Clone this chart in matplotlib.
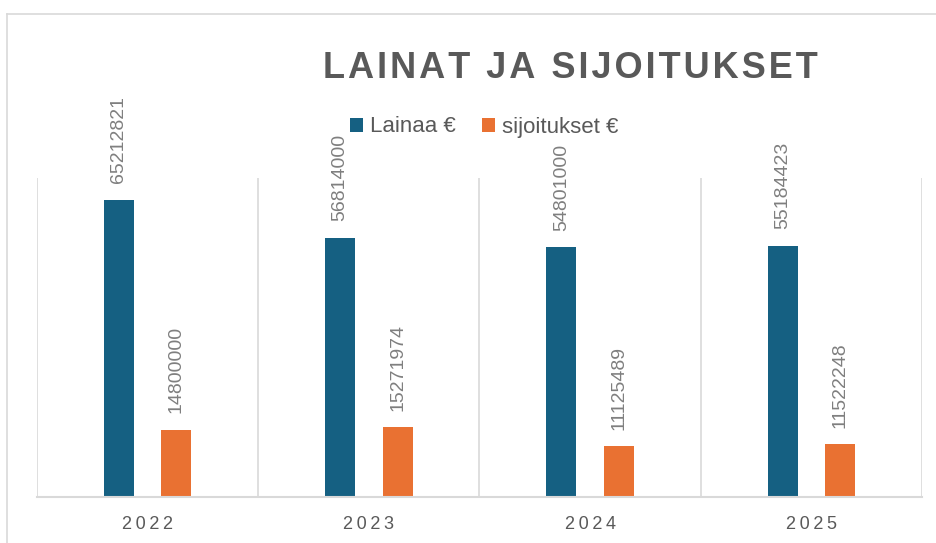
import numpy as np
import matplotlib
matplotlib.use("Agg")
import matplotlib.pyplot as plt
from matplotlib.lines import Line2D

plt.rcParams['font.family'] = ['Liberation Sans', 'DejaVu Sans']

vuodet = ["2022", "2023", "2024", "2025"]
lainaa = [65212821, 56814000, 54801000, 55184423]
sijoitukset = [14800000, 15271974, 11125489, 11522248]

sininen = "#156082"
oranssi = "#E97132"
harmaa = "#595959"
viiva = "#d9d9d9"


def harvenna(teksti, vali="\u200a"):
    # kirjainväli: ohut välilyönti merkkien väliin
    return vali.join(teksti)


fig = plt.figure(figsize=(9.37, 5.43), dpi=100)
# reunaviivat kuvan ylä- ja vasemmassa reunassa
fig.add_artist(Line2D([7 / 937, 1], [1 - 14 / 543, 1 - 14 / 543], color=viiva, lw=1.2))
fig.add_artist(Line2D([7 / 937, 7 / 937], [0, 1 - 14 / 543], color=viiva, lw=1.2))

ax = fig.add_axes([37 / 937, 1 - 497 / 543, (922 - 37) / 937, (497 - 178) / 543])

x = np.arange(len(vuodet))
leveys = 0.136
b1 = ax.bar(x - 0.13, lainaa, leveys, color=sininen, label="Lainaa €")
b2 = ax.bar(x + 0.13, sijoitukset, leveys, color=oranssi, label="sijoitukset €")

for palkit, arvot in ((b1, lainaa), (b2, sijoitukset)):
    for p, v in zip(palkit, arvot):
        ax.annotate(str(v), (p.get_x() + p.get_width() / 2, v), xytext=(0, 12),
                    textcoords="offset points", rotation=90, ha="center", va="bottom",
                    fontsize=14, color="#7f7f7f", annotation_clip=False)

ax.set_xlim(-0.5, len(vuodet) - 0.5)
ax.set_ylim(0, 70000000)
ax.set_yticks([])
for k in range(len(vuodet) + 1):
    ax.axvline(k - 0.5, color=viiva, lw=1.2, zorder=0)
for s in ("top", "left", "right"):
    ax.spines[s].set_visible(False)
ax.spines["bottom"].set_color(viiva)
ax.spines["bottom"].set_linewidth(1.5)
ax.set_xticks(x)
ax.set_xticklabels([harvenna(v, "\u2009") for v in vuodet], fontsize=13, color=harmaa)
ax.tick_params(axis="x", length=0, pad=14)

fig.text(570 / 937, 1 - 69 / 543, harvenna("LAINAT JA SIJOITUKSET", "\u200a"), ha="center",
         va="center", fontsize=26, fontweight="bold", color=harmaa)

fig.legend(handles=[b1, b2], loc="center", bbox_to_anchor=(484 / 937, 1 - 127 / 543),
           ncol=2, frameon=False, fontsize=16, labelcolor=harmaa, handlelength=0.6,
           handleheight=0.6, handletextpad=0.3, columnspacing=1.2)

fig.savefig("out.png", dpi=100)
